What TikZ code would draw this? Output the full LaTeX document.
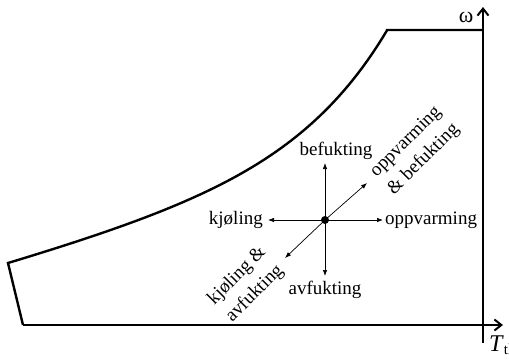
\documentclass[tikz,border=0pt]{standalone}
\usepackage{fontspec}
\setmainfont{Liberation Serif}
\usetikzlibrary{arrows.meta}
\begin{document}
\begin{tikzpicture}[x=1pt,y=-1pt,
  thickline/.style={line width=2.4pt,line join=miter},
  axisline/.style={line width=2.4pt,-{Straight Barb[length=7pt,width=11pt,line width=2pt]}},
  thinarrow/.style={line width=0.7pt,-{Latex[length=6pt,width=4.5pt]}},
  lbl/.style={font=\fontsize{19}{23}\selectfont,inner sep=0pt},
  rlbl/.style={lbl,rotate=45,align=center,font=\fontsize{19}{25}\selectfont}]
\useasboundingbox (0,0) rectangle (509,359);
% axes
\coordinate (xs) at (23,325);
\coordinate (xe) at (503,325);
\coordinate (ys) at (483,343);
\coordinate (ye) at (483,7);
\draw[axisline] (xs) -- (xe);
\draw[axisline] (ys) -- (ye);
\node[lbl,anchor=base,font=\fontsize{22}{24}\selectfont] (om) at (466,22) {ω};
\node[lbl,anchor=base west,font=\fontsize{24}{26}\selectfont] (tt) at (489,351) {\textit{T}\raisebox{-0.3ex}{\fontsize{15}{15}\selectfont tl}};
% envelope
\coordinate (p0) at (23,325);
\coordinate (p1) at (8,263);
\coordinate (pk) at (387,30);
\coordinate (pe) at (483,30);
\draw[thickline] (p0) -- (p1)
  -- plot[domain=8:387,samples=80] (\x,{263-0.28*(\x-8)-2.07*(exp(0.01089*(\x-8))-1)})
  -- (pk) -- (pe);
% center
\fill (325,220) circle (4pt) coordinate (c);
\node[lbl,anchor=south] (bef) at (336,160) {befukting};
\node[lbl,anchor=north] (avf) at (325,281) {avfukting};
\node[lbl,anchor=east] (kj) at (263,220) {kjøling};
\node[lbl,anchor=west] (opp) at (385,220) {oppvarming};
\node[rlbl] (ob) at (415,151) {oppvarming\\\& befukting};
\node[rlbl] (ka) at (246,285) {kjøling \&\\avfukting};
\coordinate (cu) at (325,163);
\coordinate (cd) at (325,276);
\coordinate (cl) at (268,220);
\coordinate (cr) at (383,220);
\coordinate (cne) at (367,183);
\coordinate (csw) at (285,258);
\draw[thinarrow] (c) -- (cu);
\draw[thinarrow] (c) -- (cd);
\draw[thinarrow] (c) -- (cl);
\draw[thinarrow] (c) -- (cr);
\draw[thinarrow] (c) -- (cne);
\draw[thinarrow] (c) -- (csw);
\end{tikzpicture}
\end{document}
